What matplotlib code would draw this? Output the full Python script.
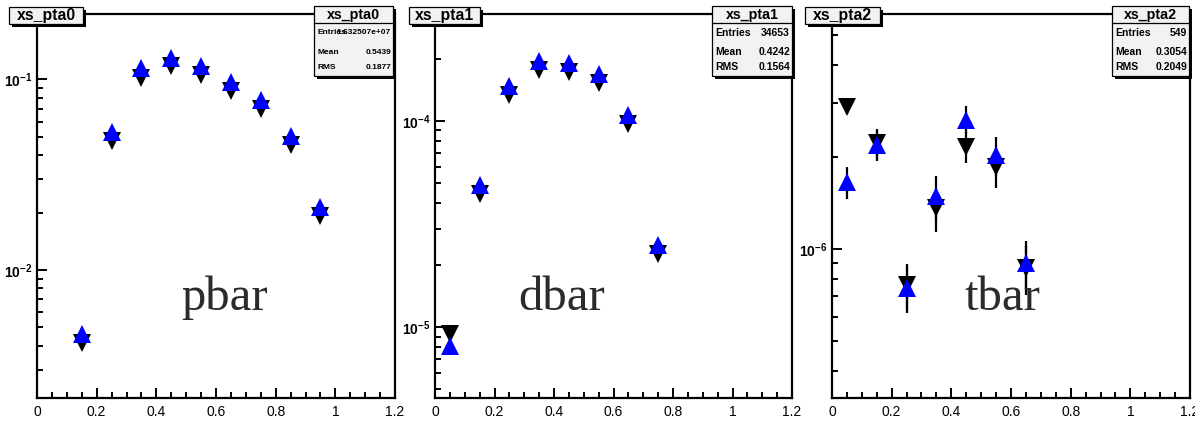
import matplotlib
matplotlib.use("Agg")
import matplotlib.pyplot as plt
from matplotlib.patches import Rectangle
from matplotlib.ticker import MultipleLocator, LogLocator, FuncFormatter, NullFormatter
import numpy as np

plt.rcParams['mathtext.fontset'] = 'custom'
plt.rcParams['mathtext.rm'] = 'Liberation Sans:bold'
plt.rcParams['mathtext.bf'] = 'Liberation Sans:bold'
plt.rcParams['mathtext.default'] = 'bf'

W, H = 1195, 422

# --- histogram contents (bin centres, two samples per histogram) ---
pta0_x = [0.15, 0.25, 0.35, 0.45, 0.55, 0.65, 0.75, 0.85, 0.95]
pta0_black = [0.00414, 0.0473, 0.102, 0.117, 0.105, 0.0871, 0.0699, 0.0453, 0.0192]
pta0_blue = [0.00461, 0.0527, 0.114, 0.130, 0.117, 0.0971, 0.0779, 0.0505, 0.0214]

pta1_x = [0.05, 0.15, 0.25, 0.35, 0.45, 0.55, 0.65, 0.75]
pta1_black = [9.27e-6, 4.43e-5, 1.34e-4, 1.77e-4, 1.72e-4, 1.53e-4, 9.66e-5, 2.27e-5]
pta1_blue = [8.14e-6, 4.90e-5, 1.48e-4, 1.96e-4, 1.905e-4, 1.69e-4, 1.069e-4, 2.51e-5]

pta2_x = [0.05, 0.15, 0.25, 0.35, 0.45, 0.55, 0.65]
pta2_black = [2.92e-6, 2.22e-6, 7.64e-7, 1.36e-6, 2.16e-6, 1.86e-6, 8.67e-7]
pta2_blue = [1.66e-6, 2.19e-6, 7.46e-7, 1.486e-6, 2.65e-6, 2.03e-6, 9.04e-7]
pta2_black_err = [0.15e-6, 0.25e-6, 0.13e-6, 0.22e-6, 0.25e-6, 0.28e-6, 0.16e-6]
pta2_blue_err = [0.20e-6, 0.25e-6, 0.13e-6, 0.25e-6, 0.28e-6, 0.30e-6, 0.16e-6]

hist_names = ['xs_pta0', 'xs_pta1', 'xs_pta2']
particle_labels = ['pbar', 'dbar', 'tbar']
stat_entries = ['1.632507e+07', '34653', '549']
stat_mean = ['0.5439', '0.4242', '0.3054']
stat_rms = ['0.1877', '0.1564', '0.2049']

x_ticks = [0, 0.2, 0.4, 0.6, 0.8, 1, 1.2]
x_tick_labels = ['0', '0.2', '0.4', '0.6', '0.8', '1', '1.2']

# pad geometry in pixels: (left, right, top, bottom) of the frame
frames = [(37, 395, 14, 398), (435, 792, 14, 398), (832, 1190, 14, 398)]
ylims = [(2.13e-3, 0.22), (4.54e-6, 3.30e-4), (3.26e-7, 5.87e-6)]
label_x = [0.525, 0.354, 0.475]
stat_box = [(314, 393), (712, 792), (1112, 1189)]
stat_font = [6.0, 7.5, 7.5]
title_box = [(9, 83), (409, 480), (805, 880)]

fig = plt.figure(figsize=(W / 100, H / 100), dpi=100)
fig.patch.set_facecolor('white')


def fig_rect(x0, y0, x1, y1, **kw):
    r = Rectangle((x0 / W, 1 - y1 / H), (x1 - x0) / W, (y1 - y0) / H,
                  transform=fig.transFigure, **kw)
    fig.add_artist(r)
    return r


def box(x0, y0, x1, y1, shadow=3):
    fig_rect(x0 + shadow, y0 + shadow, x1 + shadow, y1 + shadow,
             facecolor='black', edgecolor='none', zorder=5)
    fig_rect(x0, y0, x1, y1, facecolor='#f2f2f2', edgecolor='black',
             linewidth=0.9, zorder=6)


def dec_label(v, pos):
    e = int(round(np.log10(v)))
    return r'$\mathbf{10^{%d}}$' % e


series = [
    (pta0_x, pta0_black, pta0_blue, None, None),
    (pta1_x, pta1_black, pta1_blue, None, None),
    (pta2_x, pta2_black, pta2_blue, pta2_black_err, pta2_blue_err),
]

for i, (xs, yb, yu, eb, eu) in enumerate(series):
    l, r, t, b = frames[i]
    ax = fig.add_axes([l / W, 1 - b / H, (r - l) / W, (b - t) / H])
    ax.set_yscale('log')
    ax.set_xlim(0, 1.2)
    ax.set_ylim(*ylims[i])

    ax.errorbar(xs, yb, yerr=eb, fmt='v', color='black', ms=13, mew=0,
                ecolor='black', elinewidth=1.6, capsize=0, zorder=3)
    ax.errorbar(xs, yu, yerr=eu, fmt='^', color='blue', ms=13, mew=0,
                ecolor='black', elinewidth=1.6, capsize=0, zorder=4)

    for s in ax.spines.values():
        s.set_linewidth(1.6)

    ax.set_xticks(x_ticks)
    ax.set_xticklabels(x_tick_labels, family=['Liberation Sans Narrow', 'Liberation Sans'],
                       fontsize=10)
    ax.xaxis.set_minor_locator(MultipleLocator(0.05))
    ax.yaxis.set_major_locator(LogLocator(base=10, numticks=20))
    ax.yaxis.set_minor_locator(LogLocator(base=10, subs=np.arange(2, 10), numticks=20))
    ax.yaxis.set_major_formatter(FuncFormatter(dec_label))
    ax.yaxis.set_minor_formatter(NullFormatter())
    ax.tick_params(which='both', direction='in', top=False, right=False, width=1.4)
    ax.tick_params(which='major', length=7.5)
    ax.tick_params(which='minor', length=4)
    ax.tick_params(axis='x', pad=5)
    ax.tick_params(axis='y', labelsize=10, pad=3)

    ax.text(label_x[i], 0.228, particle_labels[i], transform=ax.transAxes,
            family='Liberation Serif', fontsize=35, color='#2b2b2b',
            ha='center', va='baseline')

    # title box on the upper left of the frame
    tx0, tx1 = title_box[i]
    box(tx0, 7, tx1, 24)
    fig.text((tx0 + tx1) / 2 / W, 1 - 15.8 / H, hist_names[i], ha='center',
             va='center', family='Liberation Sans', weight='bold', fontsize=11.4,
             zorder=7)

    # statistics box
    sx0, sx1 = stat_box[i]
    box(sx0, 6, sx1, 76)
    fig.add_artist(plt.Line2D([sx0 / W, sx1 / W], [1 - 23 / H, 1 - 23 / H],
                              transform=fig.transFigure, color='black',
                              linewidth=0.9, zorder=7))
    fig.text((sx0 + sx1) / 2 / W, 1 - 14.5 / H, hist_names[i], ha='center',
             va='center', family='Liberation Sans', weight='bold', fontsize=10.3,
             zorder=7)
    rows = [('Entries', stat_entries[i]), ('Mean', stat_mean[i]), ('RMS', stat_rms[i])]
    for (name, val), yy in zip(rows, [33, 52, 67.5]):
        fig.text((sx0 + 3) / W, 1 - yy / H, name, ha='left', va='center',
                 family='Liberation Sans', weight='bold', fontsize=stat_font[i],
                 zorder=7)
        fig.text((sx1 - 2) / W, 1 - yy / H, val, ha='right', va='center',
                 family='Liberation Sans', weight='bold', fontsize=stat_font[i],
                 zorder=7)

fig.savefig('out.png', dpi=100)
